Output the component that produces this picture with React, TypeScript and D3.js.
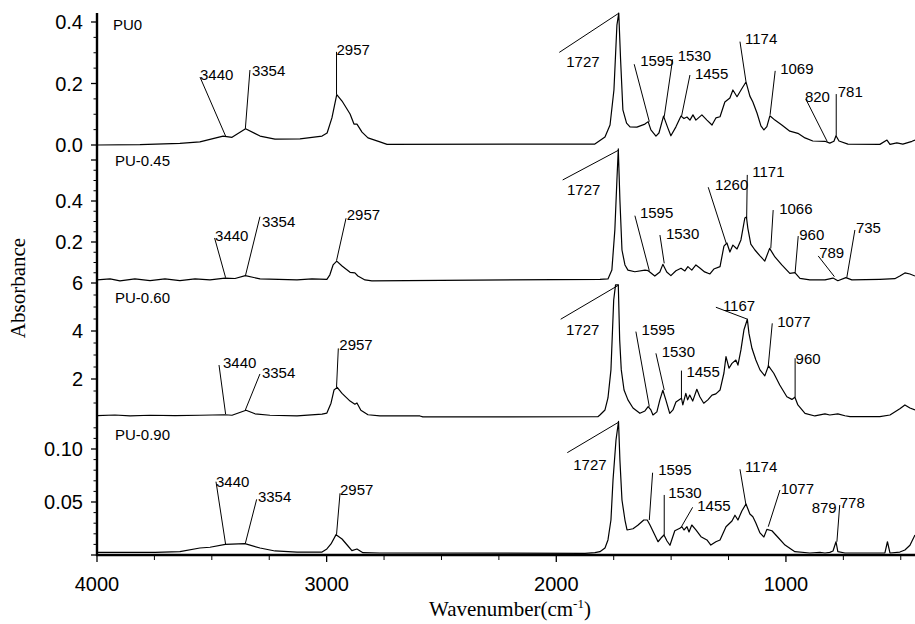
import { scaleLinear, line, range } from 'd3';

type Pt = [number, number];

const wavenumberTicks = [4000, 3000, 2000, 1000];
const panelNames = ['PU0', 'PU-0.45', 'PU-0.60', 'PU-0.90'];

// y tick labels per panel
const pu0Ticks = ['0.0', '0.2', '0.4'];
const pu045Ticks = ['0.2', '0.4'];
const pu060Ticks = ['2', '4', '6'];
const pu090Ticks = ['0.05', '0.10'];

// spectra, [wavenumber cm-1, absorbance]
const pu0: Pt[] = [
  [4000, 0.0], [3813, 0.001], [3639, 0.005], [3552, 0.01], [3451, 0.029], [3412, 0.025], [3353, 0.053],
  [3290, 0.029], [3225, 0.019], [3116, 0.02], [3020, 0.029], [2998, 0.039], [2977, 0.088], [2956, 0.164],
  [2933, 0.143], [2898, 0.101], [2881, 0.068], [2868, 0.068], [2846, 0.042], [2820, 0.023], [2768, 0.01],
  [2737, 0.002], [1832, 0.003], [1788, 0.026], [1766, 0.065], [1749, 0.179], [1736, 0.39], [1728, 0.429],
  [1720, 0.277], [1710, 0.114], [1694, 0.071], [1679, 0.059], [1649, 0.058], [1614, 0.068], [1600, 0.076],
  [1588, 0.049], [1566, 0.029], [1553, 0.039], [1533, 0.094], [1514, 0.055], [1501, 0.03], [1479, 0.059],
  [1457, 0.094], [1444, 0.086], [1431, 0.091], [1418, 0.081], [1405, 0.098], [1392, 0.081], [1366, 0.098],
  [1344, 0.081], [1322, 0.065], [1305, 0.088], [1287, 0.092], [1266, 0.14], [1244, 0.153], [1231, 0.179],
  [1213, 0.157], [1193, 0.182], [1174, 0.205], [1157, 0.159], [1144, 0.14], [1126, 0.104], [1109, 0.062],
  [1096, 0.049], [1083, 0.06], [1070, 0.095], [1048, 0.081], [1018, 0.065], [983, 0.045], [948, 0.038],
  [917, 0.023], [883, 0.013], [830, 0.012], [809, 0.006], [791, 0.012], [782, 0.03], [769, 0.013],
  [730, 0.003], [591, 0.002], [560, 0.016], [547, 0.002], [517, 0.007], [491, 0.003], [451, 0.012],
  [438, 0.016],
];

const pu045: Pt[] = [
  [4000, 0.015], [3943, 0.02], [3900, 0.01], [3835, 0.02], [3769, 0.012], [3704, 0.02], [3639, 0.012],
  [3573, 0.02], [3508, 0.015], [3443, 0.024], [3399, 0.022], [3354, 0.036], [3290, 0.02], [3129, 0.015],
  [3064, 0.02], [2999, 0.018], [2986, 0.04], [2972, 0.088], [2956, 0.107], [2933, 0.083], [2898, 0.052],
  [2877, 0.049], [2864, 0.034], [2833, 0.015], [2803, 0.01], [1810, 0.018], [1775, 0.02], [1758, 0.063],
  [1745, 0.259], [1736, 0.502], [1730, 0.654], [1723, 0.405], [1714, 0.161], [1701, 0.088], [1688, 0.063],
  [1658, 0.055], [1614, 0.063], [1600, 0.06], [1571, 0.034], [1549, 0.054], [1536, 0.091], [1519, 0.054],
  [1501, 0.036], [1479, 0.06], [1457, 0.072], [1440, 0.059], [1427, 0.08], [1410, 0.063], [1392, 0.088],
  [1375, 0.073], [1354, 0.054], [1331, 0.044], [1314, 0.068], [1287, 0.08], [1270, 0.18], [1257, 0.195],
  [1244, 0.151], [1231, 0.185], [1213, 0.166], [1196, 0.21], [1179, 0.317], [1172, 0.322], [1166, 0.268],
  [1153, 0.19], [1135, 0.161], [1113, 0.132], [1092, 0.107], [1071, 0.169], [1048, 0.127], [1018, 0.088],
  [983, 0.047], [961, 0.051], [939, 0.023], [896, 0.015], [830, 0.015], [795, 0.024], [774, 0.011],
  [739, 0.026], [713, 0.015], [591, 0.018], [526, 0.021], [504, 0.034], [482, 0.049], [460, 0.044],
  [438, 0.034],
];

const pu060: Pt[] = [
  [4000, 0.47], [3922, 0.5], [3856, 0.46], [3769, 0.49], [3660, 0.47], [3552, 0.49], [3443, 0.51],
  [3412, 0.49], [3351, 0.7], [3312, 0.55], [3247, 0.49], [3129, 0.46], [3020, 0.54], [2999, 0.58],
  [2981, 0.99], [2968, 1.54], [2954, 1.65], [2933, 1.4], [2898, 1.08], [2877, 0.95], [2868, 1.0],
  [2851, 0.7], [2820, 0.51], [2768, 0.46], [2594, 0.46], [2581, 0.42], [1819, 0.43], [1810, 0.5],
  [1788, 0.71], [1775, 1.21], [1762, 2.38], [1750, 5.29], [1742, 5.92], [1730, 5.92], [1724, 3.63],
  [1717, 2.38], [1705, 1.54], [1688, 1.13], [1666, 0.79], [1636, 0.57], [1614, 0.67], [1600, 0.85],
  [1588, 0.71], [1579, 0.5], [1562, 0.63], [1549, 1.13], [1536, 1.53], [1523, 1.13], [1506, 0.57],
  [1492, 0.71], [1479, 1.04], [1455, 1.2], [1449, 0.92], [1436, 1.4], [1428, 1.13], [1419, 1.33],
  [1406, 1.08], [1388, 1.57], [1375, 1.26], [1358, 0.99], [1340, 1.13], [1322, 1.33], [1305, 1.38],
  [1287, 1.54], [1270, 2.25], [1261, 2.93], [1248, 2.45], [1235, 2.65], [1218, 2.79], [1209, 2.58],
  [1196, 3.21], [1183, 4.04], [1168, 4.49], [1161, 3.9], [1148, 3.28], [1131, 2.79], [1113, 2.38],
  [1092, 2.13], [1076, 2.55], [1053, 2.24], [1027, 1.75], [996, 1.26], [974, 1.15], [961, 1.24],
  [948, 0.92], [917, 0.57], [874, 0.46], [830, 0.55], [809, 0.5], [774, 0.55], [743, 0.47], [721, 0.43],
  [591, 0.43], [547, 0.5], [504, 0.76], [482, 0.92], [460, 0.79], [438, 0.71],
];

const pu090: Pt[] = [
  [4000, 0.0025], [3747, 0.0025], [3639, 0.0031], [3552, 0.0066], [3508, 0.0073], [3441, 0.0101],
  [3356, 0.0107], [3290, 0.0066], [3225, 0.0038], [3129, 0.0028], [3020, 0.0028], [2999, 0.0057],
  [2981, 0.0104], [2959, 0.0192], [2933, 0.0151], [2907, 0.0085], [2890, 0.0041], [2868, 0.0057],
  [2842, 0.0022], [2768, 0.0019], [1875, 0.0016], [1832, 0.0022], [1810, 0.0031], [1788, 0.0066],
  [1775, 0.0142], [1762, 0.033], [1753, 0.0708], [1740, 0.1085], [1729, 0.126], [1723, 0.0896],
  [1714, 0.0519], [1701, 0.033], [1692, 0.0236], [1666, 0.0248], [1645, 0.028], [1619, 0.033],
  [1604, 0.033], [1592, 0.0283], [1571, 0.0189], [1557, 0.0125], [1544, 0.016], [1531, 0.0189],
  [1518, 0.0132], [1505, 0.0092], [1484, 0.0229], [1462, 0.0252], [1453, 0.0267], [1444, 0.0236],
  [1431, 0.0267], [1422, 0.0217], [1410, 0.0283], [1392, 0.0236], [1370, 0.0173], [1344, 0.0142],
  [1327, 0.0094], [1305, 0.0125], [1287, 0.0142], [1261, 0.0267], [1235, 0.0321], [1222, 0.0375],
  [1209, 0.033], [1192, 0.0415], [1174, 0.0481], [1157, 0.0387], [1144, 0.0361], [1131, 0.0302],
  [1113, 0.0208], [1096, 0.017], [1083, 0.0242], [1061, 0.0229], [1036, 0.017], [1004, 0.0094],
  [961, 0.0031], [896, 0.0019], [852, 0.0025], [830, 0.0019], [809, 0.0025], [795, 0.0038],
  [782, 0.0125], [774, 0.0031], [743, 0.0019], [569, 0.0019], [558, 0.0125], [547, 0.0019],
  [504, 0.0028], [482, 0.0047], [460, 0.0092], [438, 0.0189],
];

// peak labels: [wavenumber, absorbance where the leader ends]
const pu0Peaks: Pt[] = [
  [3440, 0.029], [3354, 0.053], [2957, 0.164], [1727, 0.429], [1595, 0.076], [1530, 0.092],
  [1455, 0.092], [1174, 0.206], [1069, 0.098], [820, 0.011], [781, 0.03],
];
const pu045Peaks: Pt[] = [
  [3440, 0.026], [3354, 0.034], [2957, 0.109], [1727, 0.649], [1595, 0.06], [1530, 0.096],
  [1260, 0.194], [1171, 0.316], [1066, 0.169], [960, 0.05], [789, 0.031], [735, 0.026],
];
const pu060Peaks: Pt[] = [
  [3440, 0.54], [3354, 0.71], [2957, 1.65], [1727, 5.92], [1595, 0.85], [1530, 1.54],
  [1455, 1.2], [1167, 4.49], [1077, 2.54], [960, 1.24],
];
const pu090Peaks: Pt[] = [
  [3440, 0.0101], [3354, 0.011], [2957, 0.0192], [1727, 0.1255], [1595, 0.033], [1530, 0.0189],
  [1455, 0.0267], [1174, 0.0472], [1077, 0.0267], [879, 0.002], [778, 0.0125],
];

// label layout (px): leader start offset from its end, text offset from leader start, draw leader
const pu0Labels = [
  [-25.6, -59, 0, 3], [4.6, -58.7, 2, 6], [0, -42.7, 0, 3], [-59.7, 39.3, 7, 15], [-15.1, -57.4, 6, 2],
  [8.4, -57.4, 5, 2], [8.5, -41.7, 5, 4], [-6, -40, 5, 2], [5.1, -44, 5, 3], [-21.4, -42.4, -1, 3],
  [0, -41.7, 1.5, 3],
];
const pu045Labels = [
  [-11, -39.7, 0.5, 3], [14.6, -59.3, 2, 10], [9.5, -42.4, 0.7, 2], [-56.3, 30, 4.3, 15],
  [-14.4, -55, 5, 2.3], [-4.3, -28.3, 6, 4], [-18, -56, 6.7, 2.7], [0.6, -43.3, 5, 2],
  [2.4, -38.3, 6, 4], [3.1, -36.7, 1, 4], [-16.2, -20.7, 1, 2], [8.1, -47.7, 1, 3],
];
const pu060Labels = [
  [-6.6, -49, 4, 3], [14.6, -36, 2, 4], [1.8, -39, 1, 2], [-58.3, 34.3, 5.3, 15.7], [-13.4, -75, 5.7, 3.3],
  [-8.3, -36.7, 5.7, 3.7], [0, -27.6, 5, 6.3], [-31.7, -12, 7, 3.7], [4, -42.7, 5, 3.7], [0, -39, 0.5, 5.7],
];
const pu090Labels = [
  [-9.6, -62.6, 0, 5.3], [11.3, -44, 1.3, 2.7], [3.5, -41.4, 0, 1.7], [-51.7, 30.7, 6, 17.3],
  [3.3, -47.3, 5.6, 2.3], [0, -40, 4, 3], [11.2, -19.4, 4.6, 3.7], [-6, -35.7, 5, 2.7],
  [11.7, -36.7, 0.7, 4], [-2.1, -39.9, 0, 0, 0], [2.8, -36.7, 0, 3],
];

const W = 915;
const H = 624;
const AX = 97;
const AY = 555;
const SANS = '"Liberation Sans", Arial, Helvetica, sans-serif';
const SERIF = '"Liberation Serif", "Times New Roman", serif';

const x = scaleLinear().domain([4000, 438]).range([AX, W]);

const panels = [
  {
    name: panelNames[0], data: pu0, peaks: pu0Peaks, labels: pu0Labels, ticks: pu0Ticks, bare: [] as number[],
    minor: range(0.05, 0.42, 0.05), y: scaleLinear().domain([0, 0.4]).range([145, 22]), nx: 113, ny: 30,
  },
  {
    name: panelNames[1], data: pu045, peaks: pu045Peaks, labels: pu045Labels, ticks: pu045Ticks, bare: [0.6],
    minor: range(0.05, 0.62, 0.05), y: scaleLinear().domain([0, 0.4]).range([283, 201]), nx: 115, ny: 166,
  },
  {
    name: panelNames[2], data: pu060, peaks: pu060Peaks, labels: pu060Labels, ticks: pu060Ticks, bare: [] as number[],
    minor: range(1, 5.6, 0.5), y: scaleLinear().domain([0, 6]).range([427, 283]), nx: 115, ny: 303,
  },
  {
    name: panelNames[3], data: pu090, peaks: pu090Peaks, labels: pu090Labels, ticks: pu090Ticks, bare: [0],
    minor: range(0.01, 0.125, 0.01), y: scaleLinear().domain([0, 0.1]).range([555, 449]), nx: 115, ny: 440,
  },
];

export default function App() {
  const minorX = range(4000, 400, -250).filter((v) => !wavenumberTicks.includes(v));

  return (
    <svg
      width={W}
      height={H}
      style={{ position: 'absolute', left: 0, top: 0, background: '#fff' }}
    >
      {panels.map((p, i) => {
        const path = line<Pt>()
          .x((d) => x(d[0]))
          .y((d) => p.y(d[1]));
        const majors = p.ticks.map((t) => +t);
        const minors = p.minor.filter((m) => !majors.concat(p.bare).some((v) => Math.abs(v - m) < 1e-6));
        return (
          <g key={p.name}>
            <path d={path(p.data) || ''} fill="none" stroke="#000" strokeWidth={1.2} strokeLinejoin="round" />
            <text x={p.nx} y={p.ny} fontFamily={SANS} fontSize={15}>
              {p.name}
            </text>

            {/* y ticks */}
            {p.ticks.map((t) => (
              <g key={t}>
                <line x1={AX - 6} x2={AX} y1={p.y(+t)} y2={p.y(+t)} stroke="#000" strokeWidth={1.3} />
                <text x={83} y={p.y(+t) + 7} textAnchor="end" fontFamily={SANS} fontSize={20}>
                  {t}
                </text>
              </g>
            ))}
            {p.bare.map((v) => (
              <line key={v} x1={AX - 6} x2={AX} y1={p.y(v)} y2={p.y(v)} stroke="#000" strokeWidth={1.3} />
            ))}
            {minors.map((v) => (
              <line key={v} x1={AX - 3.5} x2={AX} y1={p.y(v)} y2={p.y(v)} stroke="#000" strokeWidth={1} />
            ))}

            {/* peak labels */}
            {p.peaks.map((pk, j) => {
              const [dx, dy, tx, ty, drawLine] = p.labels[j];
              const ex = x(pk[0]);
              const ey = p.y(pk[1]);
              const sx = ex + dx;
              const sy = ey + dy;
              return (
                <g key={`${i}-${pk[0]}`}>
                  {drawLine !== 0 && (
                    <line x1={sx} y1={sy} x2={ex} y2={ey} stroke="#000" strokeWidth={1} />
                  )}
                  <text x={sx + tx} y={sy + ty} fontFamily={SANS} fontSize={15}>
                    {pk[0]}
                  </text>
                </g>
              );
            })}
          </g>
        );
      })}

      {/* axes */}
      <line x1={AX} x2={AX} y1={13} y2={AY + 1} stroke="#000" strokeWidth={2.4} />
      <line x1={AX - 1} x2={W} y1={AY} y2={AY} stroke="#000" strokeWidth={2.4} />
      {wavenumberTicks.map((t) => (
        <g key={t}>
          <line x1={x(t)} x2={x(t)} y1={AY} y2={AY + 7} stroke="#000" strokeWidth={1.3} />
          <text x={x(t)} y={590.5} textAnchor="middle" fontFamily={SANS} fontSize={20}>
            {t}
          </text>
        </g>
      ))}
      {minorX.map((t) => (
        <line key={t} x1={x(t)} x2={x(t)} y1={AY} y2={AY + 5} stroke="#000" strokeWidth={1} />
      ))}

      <text x={510} y={616} textAnchor="middle" fontFamily={SERIF} fontSize={21}>
        Wavenumber(cm
        <tspan fontSize={13} dy={-8}>-1</tspan>
        <tspan dy={8}>)</tspan>
      </text>
      <text
        transform="translate(25,288) rotate(-90)"
        textAnchor="middle"
        fontFamily={SERIF}
        fontSize={21}
      >
        Absorbance
      </text>
    </svg>
  );
}
